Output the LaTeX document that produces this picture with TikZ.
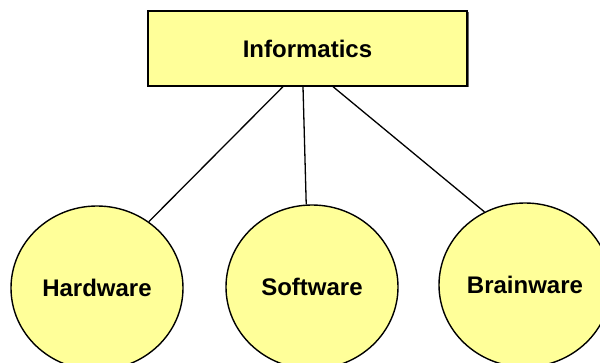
\documentclass[tikz,border=0pt]{standalone}
\usepackage{fontspec}
\setmainfont{Liberation Sans}
\usetikzlibrary{shapes.geometric}
\definecolor{paleyellow}{HTML}{FFFF99}
\tikzset{
  topbox/.style={draw=black, line width=1.3pt, fill=paleyellow, minimum width=319pt, minimum height=75pt, inner sep=0pt, font=\fontsize{24}{28}\selectfont\bfseries},
  leaf/.style={ellipse, draw=black, line width=1.4pt, fill=paleyellow, minimum width=172pt, minimum height=164pt, inner sep=0pt, font=\fontsize{24}{28}\selectfont\bfseries},
  link/.style={draw=black, line width=1.3pt}
}
\begin{document}
\begin{tikzpicture}[x=1pt,y=1pt]
\useasboundingbox (0,0) rectangle (600,362);
\fill[black!60] (149.5,274.5) rectangle (468.5,349.5);
\node[topbox] (box) at (307.5,313.5) {Informatics};
\node[leaf] (hw) at (97,74) {Hardware};
\node[leaf] (sw) at (312,75) {Software};
\node[leaf] (bw) at (525,77) {Brainware};
\draw[link] ([xshift=-24.5pt]box.south) -- (hw.52);
\draw[link] ([xshift=-4.5pt]box.south) -- (sw.94);
\draw[link] ([xshift=25.5pt]box.south) -- (bw.119);
\end{tikzpicture}
\end{document}
